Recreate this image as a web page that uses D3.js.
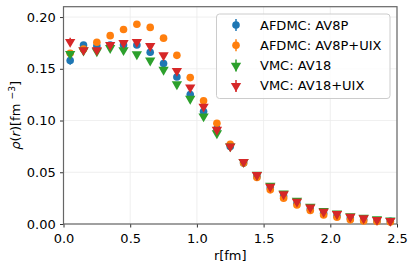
<!DOCTYPE html>
<html>
<head>
<meta charset="utf-8">
<script src="https://cdn.jsdelivr.net/npm/d3@7"></script>
<style>
  body { margin: 0; background: #fff; }
  text { font-family: "DejaVu Sans", sans-serif; }
</style>
</head>
<body>
<div id="chart"></div>
<script>
// radial grid (fm)
const rValues = [0.05, 0.15, 0.25, 0.35, 0.45, 0.55, 0.65, 0.75, 0.85, 0.95,
  1.05, 1.15, 1.25, 1.35, 1.45, 1.55, 1.65, 1.75, 1.85, 1.95,
  2.05, 2.15, 2.25, 2.35, 2.45];

const afdmcAv8p = [0.158, 0.173, 0.172, 0.173, 0.173, 0.173, 0.166, 0.155, 0.142, 0.125,
  0.1086, 0.092, 0.075, 0.059, 0.046, 0.035, 0.027, 0.020, 0.0145, 0.0105,
  0.008, 0.0058, 0.0042, 0.0032, 0.0025];
const afdmcAv8pErr = [0.004, 0.002, 0.002, 0.002, 0.002, 0.002, 0.002, 0.002, 0.002, 0.002,
  0.002, 0.001, 0.001, 0.001, 0.001, 0.001, 0.001, 0.001, 0.001, 0.001,
  0.001, 0.001, 0.001, 0.001, 0.001];

const afdmcAv8pUix = [0.165, 0.169, 0.1757, 0.182, 0.188, 0.193, 0.190, 0.1796, 0.163, 0.1415,
  0.119, 0.0974, 0.077, 0.059, 0.045, 0.033, 0.025, 0.0184, 0.013, 0.0087,
  0.0065, 0.004, 0.003, 0.0025, 0.002];
const afdmcAv8pUixErr = [0.002, 0.001, 0.001, 0.001, 0.001, 0.001, 0.001, 0.001, 0.001, 0.001,
  0.001, 0.001, 0.001, 0.001, 0.001, 0.001, 0.001, 0.001, 0.001, 0.001,
  0.001, 0.001, 0.001, 0.001, 0.001];

const vmcAv18 = [0.1644, 0.1676, 0.167, 0.170, 0.168, 0.164, 0.158, 0.149, 0.135, 0.121,
  0.104, 0.0877, 0.075, 0.060, 0.0475, 0.037, 0.0295, 0.0225, 0.0168, 0.0125,
  0.0102, 0.0075, 0.006, 0.0045, 0.0035];
const vmcAv18Err = [0.002, 0.001, 0.001, 0.001, 0.001, 0.001, 0.001, 0.001, 0.001, 0.001,
  0.001, 0.001, 0.001, 0.001, 0.001, 0.001, 0.001, 0.001, 0.001, 0.001,
  0.001, 0.001, 0.001, 0.001, 0.001];

const vmcAv18Uix = [0.176, 0.168, 0.168, 0.173, 0.175, 0.176, 0.172, 0.163, 0.148, 0.132,
  0.1134, 0.091, 0.075, 0.060, 0.0474, 0.036, 0.0287, 0.0216, 0.016, 0.0119,
  0.0097, 0.007, 0.0055, 0.004, 0.003];
const vmcAv18UixErr = [0.004, 0.002, 0.001, 0.001, 0.001, 0.001, 0.001, 0.001, 0.001, 0.001,
  0.001, 0.001, 0.001, 0.001, 0.001, 0.001, 0.001, 0.001, 0.001, 0.001,
  0.001, 0.001, 0.001, 0.001, 0.001];

const seriesNames = ["AFDMC: AV8P", "AFDMC: AV8P+UIX", "VMC: AV18", "VMC: AV18+UIX"];
const xTicks = [0.0, 0.5, 1.0, 1.5, 2.0, 2.5];
const yTicks = [0.00, 0.05, 0.10, 0.15, 0.20];

const series = [
  { name: seriesNames[0], y: afdmcAv8p, err: afdmcAv8pErr, color: "#1f77b4", marker: "circle" },
  { name: seriesNames[1], y: afdmcAv8pUix, err: afdmcAv8pUixErr, color: "#ff7f0e", marker: "circle" },
  { name: seriesNames[2], y: vmcAv18, err: vmcAv18Err, color: "#2ca02c", marker: "tri" },
  { name: seriesNames[3], y: vmcAv18Uix, err: vmcAv18UixErr, color: "#d62728", marker: "tri" }
];

const width = 415, height = 269;
const margin = { left: 63.5, right: 18, top: 6.7, bottom: 45 };
const fontSize = 13;

const svg = d3.select("#chart").append("svg")
  .attr("width", width)
  .attr("height", height);

const x = d3.scaleLinear().domain([0, 2.5]).range([margin.left, width - margin.right]);
const y = d3.scaleLinear().domain([0, 0.21]).range([height - margin.bottom, margin.top]);

// grid
svg.append("g").selectAll("line").data(xTicks).join("line")
  .attr("x1", d => x(d)).attr("x2", d => x(d))
  .attr("y1", y(0)).attr("y2", y(0.21))
  .attr("stroke", "#ebebeb").attr("stroke-width", 0.8);
svg.append("g").selectAll("line").data(yTicks).join("line")
  .attr("x1", x(0)).attr("x2", x(2.5))
  .attr("y1", d => y(d)).attr("y2", d => y(d))
  .attr("stroke", "#ebebeb").attr("stroke-width", 0.8);

// axes
const xAxis = svg.append("g")
  .attr("transform", `translate(0,${y(0)})`)
  .call(d3.axisBottom(x).tickValues(xTicks).tickFormat(d3.format(".1f")).tickSizeOuter(0).tickSize(3.5));
const yAxis = svg.append("g")
  .attr("transform", `translate(${x(0)},0)`)
  .call(d3.axisLeft(y).tickValues(yTicks).tickFormat(d3.format(".2f")).tickSizeOuter(0).tickSize(3.5));

[xAxis, yAxis].forEach(a => {
  a.select(".domain").remove();
  a.selectAll(".tick line").attr("stroke", "#333");
  a.selectAll(".tick text").attr("font-size", fontSize).attr("fill", "#000")
    .attr("font-family", "DejaVu Sans");
});
xAxis.selectAll(".tick text").attr("dy", "0.95em");
yAxis.selectAll(".tick text").attr("dx", "-0.1em");

// frame
svg.append("rect")
  .attr("x", x(0)).attr("y", y(0.21))
  .attr("width", x(2.5) - x(0)).attr("height", y(0) - y(0.21))
  .attr("fill", "none").attr("stroke", "#666").attr("stroke-width", 1.2);

// markers
const tri = d3.symbol().type(d3.symbolTriangle).size(46);
function drawMarker(g, s) {
  if (s.marker === "circle") {
    g.append("circle").attr("r", 3.8).attr("fill", s.color);
  } else {
    g.append("path").attr("d", tri()).attr("transform", "rotate(180)").attr("fill", s.color);
  }
}

series.forEach(s => {
  const g = svg.append("g");
  g.selectAll("line").data(rValues).join("line")
    .attr("x1", d => x(d)).attr("x2", d => x(d))
    .attr("y1", (d, i) => y(s.y[i] - s.err[i]))
    .attr("y2", (d, i) => y(s.y[i] + s.err[i]))
    .attr("stroke", s.color).attr("stroke-width", 1.5);
  g.selectAll("g").data(rValues).join("g")
    .attr("transform", (d, i) => `translate(${x(d)},${y(s.y[i])})`)
    .each(function() { drawMarker(d3.select(this), s); });
});

// legend
const legend = svg.append("g").attr("transform", "translate(216.5,14)");
legend.append("rect")
  .attr("width", 173.5).attr("height", 84.5).attr("rx", 3)
  .attr("fill", "#fff").attr("fill-opacity", 0.8)
  .attr("stroke", "#ccc").attr("stroke-width", 1);
series.forEach((s, i) => {
  const row = legend.append("g").attr("transform", `translate(19.5,${11 + i * 20.3})`);
  row.append("line").attr("y1", -6).attr("y2", 6).attr("stroke", s.color).attr("stroke-width", 1.5);
  drawMarker(row, s);
  row.append("text").attr("x", 24).attr("dy", "0.35em")
    .attr("font-size", fontSize).text(s.name);
});

// axis labels
svg.append("text")
  .attr("x", (x(0) + x(2.5)) / 2).attr("y", 260)
  .attr("text-anchor", "middle").attr("font-size", fontSize)
  .text("r[fm]");

const yl = svg.append("text")
  .attr("transform", `translate(20,${(y(0) + y(0.21)) / 2}) rotate(-90)`)
  .attr("text-anchor", "middle").attr("font-size", fontSize);
yl.append("tspan").attr("font-style", "italic").text("ρ");
yl.append("tspan").text("(");
yl.append("tspan").attr("font-style", "italic").text("r");
yl.append("tspan").text(")[fm ");
yl.append("tspan").attr("font-size", 9.2).attr("dy", "-0.55em").text("−3");
yl.append("tspan").attr("dy", "0.4em").text("]");
</script>
</body>
</html>
